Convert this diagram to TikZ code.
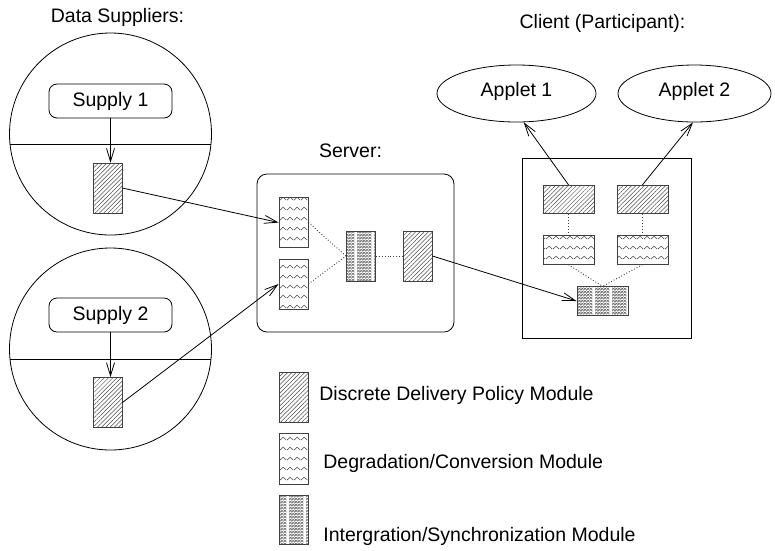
\documentclass[tikz,border=0pt]{standalone}
\usepackage{fontspec}
\setmainfont{Liberation Sans}
\usetikzlibrary{arrows.meta,patterns.meta,shapes.geometric}

% rows of small zigzags for the degradation/conversion modules
\pgfdeclarepattern{
  name=zigzagrows,
  type=uncolored,
  bottom left={\pgfpoint{0pt}{0pt}},
  top right={\pgfpoint{7pt}{9.6pt}},
  tile size={\pgfpoint{7pt}{9.6pt}},
  code={
    \pgfsetlinewidth{0.6pt}
    \pgfpathmoveto{\pgfpoint{0pt}{3pt}}
    \pgfpathlineto{\pgfpoint{3.5pt}{6pt}}
    \pgfpathlineto{\pgfpoint{7pt}{3pt}}
    \pgfusepath{stroke}
  }
}

% dense cross-hatching with a light column, for the integration/synchronization modules
\pgfdeclarepattern{
  name=crossgrid,
  type=uncolored,
  bottom left={\pgfpoint{0pt}{0pt}},
  top right={\pgfpoint{17pt}{3pt}},
  tile size={\pgfpoint{17pt}{3pt}},
  code={
    \pgfsetlinewidth{0.45pt}
    \foreach \i in {0,3,6,9,12}{
      \pgfpathmoveto{\pgfpoint{\i pt}{0pt}}
      \pgfpathlineto{\pgfpoint{\i pt + 3pt}{3pt}}
      \pgfpathmoveto{\pgfpoint{\i pt}{3pt}}
      \pgfpathlineto{\pgfpoint{\i pt + 3pt}{0pt}}
      \pgfusepath{stroke}
    }
  }
}

\begin{document}
\begin{tikzpicture}[x=1pt,y=-1pt,
  font=\fontsize{19.5}{23}\selectfont,
  line width=0.8pt,
  title/.style={anchor=base, inner sep=0pt},
  legendtext/.style={anchor=base west, inner sep=0pt},
  supplier/.style={draw, circle, minimum size=202pt, inner sep=0pt},
  source/.style={draw, rounded corners=8pt, minimum width=123pt, minimum height=34pt, inner sep=0pt},
  applet/.style={draw, ellipse, minimum width=159pt, minimum height=57pt, inner sep=0pt,
                 text height=14pt, text depth=9pt},
  module/.style={draw=black!75, line width=0.9pt, inner sep=0pt},
  vmod/.style={module, minimum width=29pt, minimum height=50pt},
  hmod/.style={module, minimum width=51pt, minimum height=28.5pt},
  policy/.style={pattern={Lines[angle=45,distance=3pt,line width=0.5pt]}, pattern color=black!70},
  degrade/.style={pattern=zigzagrows, pattern color=black!70},
  integrate/.style={pattern=crossgrid, pattern color=black!70},
  flow/.style={-{Straight Barb[length=13pt,width=8pt]}},
  link/.style={draw=black!75, dotted, line width=0.9pt}
]
\useasboundingbox (0,0) rectangle (775,550);

% ---- titles
\node[title] (tsup) at (117.5,22.5) {Data Suppliers:};
\node[title] (tsrv) at (350.5,157) {Server:};
\node[title] (tcli) at (602.5,28) {Client (Participant):};

% ---- data suppliers
\node[supplier] (c1) at (110.5,134) {};
\draw (c1.186.8) -- (c1.-6.8);
\node[source] (sup1) at (110.5,101) {Supply 1};
\node[vmod, policy] (h1) at (107.5,188) {};
\draw[flow] (sup1.south) -- (sup1.south |- h1.north);

\node[supplier] (c2) at (110.5,349) {};
\draw (c2.186.3) -- (c2.-6.3);
\node[source] (sup2) at (110.5,315) {Supply 2};
\node[vmod, policy] (h2) at (107.5,402.5) {};
\draw[flow] (sup2.south) -- (sup2.south |- h2.north);

% ---- server
\node[draw, rounded corners=10pt, minimum width=197pt, minimum height=158pt, inner sep=0pt] (srv) at (355.5,253) {};
\node[vmod, degrade] (w1) at (293.5,222.5) {};
\node[vmod, degrade] (w2) at (293.5,284) {};
\node[vmod, integrate] (cs) at (361,256) {};
\node[vmod, policy] (hs) at (417.5,256) {};
\draw[link] (w1.east) -- (cs.west);
\draw[link] (w2.east) -- (cs.west);
\draw[link] (cs.east) -- (hs.west);

% ---- client
\node[draw, minimum width=169pt, minimum height=180pt, inner sep=0pt] (cli) at (606.5,248) {};
\node[hmod, policy] (hA) at (568.5,199.5) {};
\node[hmod, policy] (hB) at (642.5,199.5) {};
\node[hmod, degrade] (wA) at (568.5,250) {};
\node[hmod, degrade] (wB) at (642.5,250) {};
\node[hmod, integrate] (cc) at (602.5,301) {};
\draw[link] (hA.south) -- (wA.north);
\draw[link] (hB.south) -- (wB.north);
\draw[link] (wA.south) -- (cc.north);
\draw[link] (wB.south) -- (cc.north);

\node[applet] (app1) at (516.5,93.5) {Applet 1};
\node[applet, minimum width=153pt] (app2) at (694.5,93.5) {Applet 2};
\draw[flow] (hA.north) -- (app1.-76);
\draw[flow] (hB.north) -- (app2.-93);

% ---- data flow between parts
\draw[flow] (h1.east) -- (w1.west);
\draw[flow] (h2.east) -- (w2.west);
\draw[flow] (hs.east) -- (cc.west);

% ---- legend
\node[vmod, policy] (lg1) at (293.5,397) {};
\node[vmod, degrade, minimum height=51pt] (lg2) at (293.5,458.5) {};
\node[vmod, integrate, minimum height=49pt] (lg3) at (293.5,519.5) {};
\node[legendtext] (lt1) at (319,400) {Discrete Delivery Policy Module};
\node[legendtext] (lt2) at (323,468) {Degradation/Conversion Module};
\node[legendtext] (lt3) at (323,541) {Intergration/Synchronization Module};
\end{tikzpicture}
\end{document}
